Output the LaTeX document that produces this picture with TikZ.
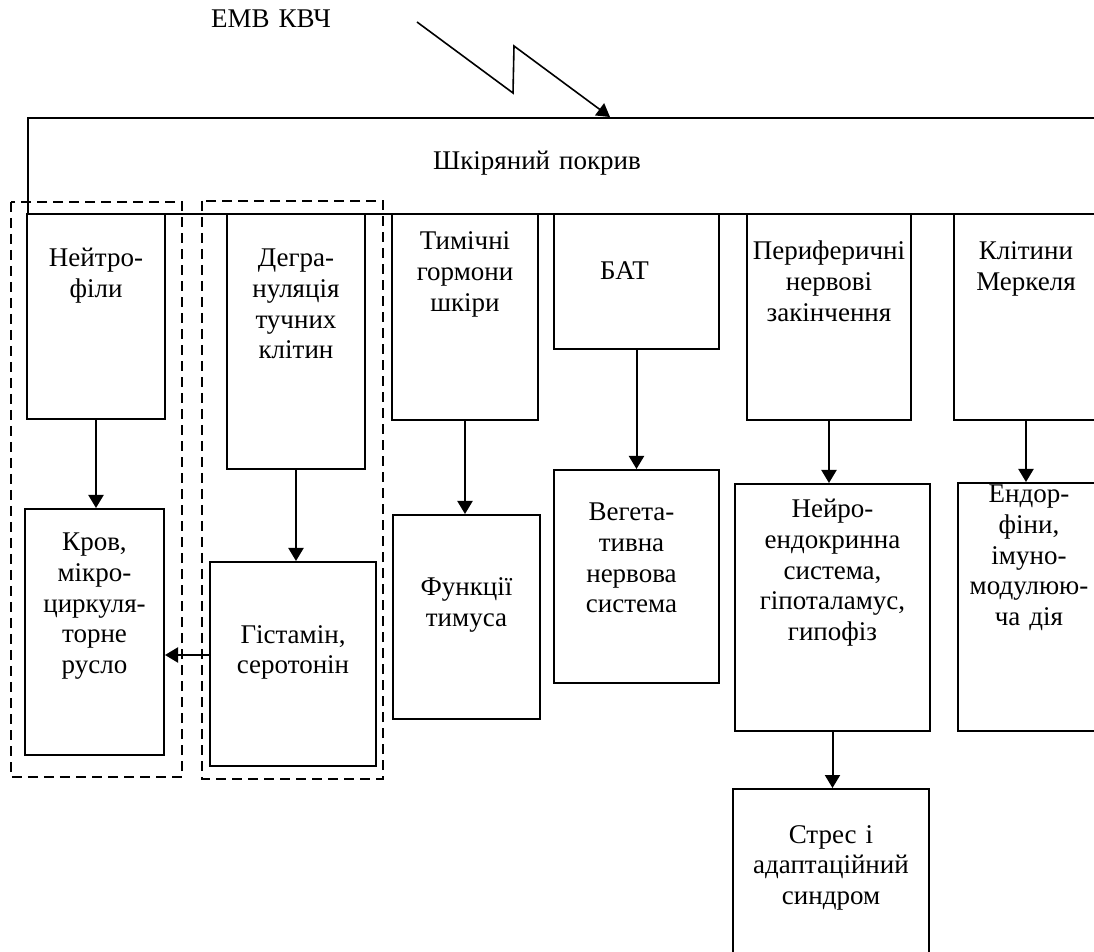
\documentclass[tikz,border=0pt]{standalone}
\usepackage{fontspec}
\setmainfont{Liberation Serif}
\usetikzlibrary{arrows.meta}

\begin{document}
\begin{tikzpicture}[x=0.5pt, y=-0.5pt,
	font=\fontsize{13.5}{15.3}\selectfont,
	box/.style={draw, line width=1pt, anchor=north west, inner sep=0pt},
	txt/.style={anchor=base, align=center, text width=120pt, inner sep=0pt},
	arr/.style={line width=1pt, -{Triangle[length=6.5pt, width=7.5pt]}},
	group/.style={draw, line width=1pt, dash pattern=on 5pt off 3pt}]
	\useasboundingbox (0,0) rectangle (1094,952);
	\clip (0,0) rectangle (1094,952);

	\node[txt] (emv) at (271,28) {ЕМВ КВЧ};
	\node[box, minimum width=545pt, minimum height=48pt] (skin) at (27,117) {};
	\node[txt] (skintxt) at (537,170) {Шкіряний покрив};

	\node[box, minimum width=69pt, minimum height=102.5pt] (neutro) at (26,213) {};
	\node[box, minimum width=69pt, minimum height=127.5pt] (degr) at (226,213) {};
	\node[box, minimum width=73pt, minimum height=103pt] (tym) at (391,213) {};
	\node[box, minimum width=82.5pt, minimum height=67.5pt] (bat) at (553,213) {};
	\node[box, minimum width=82pt, minimum height=103pt] (perif) at (746,213) {};
	\node[box, minimum width=72pt, minimum height=103pt] (merkel) at (953,213) {};

	\node[box, minimum width=69.5pt, minimum height=123pt] (krov) at (24,508) {};
	\node[box, minimum width=83pt, minimum height=102pt] (hist) at (209,561) {};
	\node[box, minimum width=73.5pt, minimum height=102pt] (func) at (392,514) {};
	\node[box, minimum width=82.5pt, minimum height=106.5pt] (veget) at (553,469) {};
	\node[box, minimum width=97.5pt, minimum height=123.5pt] (neuro) at (734,483) {};
	\node[box, minimum width=71pt, minimum height=124pt] (endor) at (957,482) {};
	\node[box, minimum width=98pt, minimum height=100pt] (stress) at (732,788) {};

	\node[txt] (neutrotxt) at ([yshift=-27pt]neutro.north) {Нейтро-\\філи};
	\node[txt] (degrtxt) at ([yshift=-27pt]degr.north) {Дегра-\\нуляція\\тучних\\клітин};
	\node[txt] (tymtxt) at ([yshift=-18.5pt]tym.north) {Тимічні\\гормони\\шкіри};
	\node[txt] (battxt) at ([xshift=-6pt, yshift=-33.5pt]bat.north) {БАТ};
	\node[txt] (periftxt) at ([yshift=-23.5pt]perif.north) {Периферичні\\нервові\\закінчення};
	\node[txt] (merkeltxt) at ([yshift=-23.5pt]merkel.north) {Клітини\\Меркеля};
	\node[txt] (krovtxt) at ([yshift=-21.5pt]krov.north) {Кров,\\мікро-\\циркуля-\\торне\\русло};
	\node[txt] (histtxt) at ([yshift=-41pt]hist.north) {Гістамін,\\серотонін};
	\node[txt] (functxt) at ([yshift=-41pt]func.north) {Функції\\тимуса};
	\node[txt] (vegettxt) at ([xshift=-2.5pt, yshift=-26pt]veget.north) {Вегета-\\тивна\\нервова\\система};
	\node[txt] (neurotxt) at ([yshift=-17.5pt]neuro.north) {Нейро-\\ендокринна\\система,\\гіпоталамус,\\гипофіз};
	\node[txt] (endortxt) at ([yshift=-10.5pt]endor.north) {Ендор-\\фіни,\\імуно-\\модулюю-\\ча дія};
	\node[txt] (stresstxt) at ([yshift=-27.5pt]stress.north) {Стрес і\\адаптаційний\\синдром};

	\draw[group] (11,202) rectangle (182,777);
	\draw[group] (202,201) rectangle (383,779);

	\coordinate (z0) at (417,22);
	\coordinate (z1) at (513,93);
	\coordinate (z2) at (514,46);
	\coordinate (hit) at (610,117);
	\draw[arr, line width=0.8pt] (z0) -- (z1) -- (z2) -- (hit);

	\draw[arr] (neutro.south) -- (neutro.south |- krov.north);
	\draw[arr] (degr.south) -- (degr.south |- hist.north);
	\draw[arr] ([yshift=4.5pt]hist.west) -- ([yshift=4.5pt]hist.west -| krov.east);
	\draw[arr] (tym.south) -- (tym.south |- func.north);
	\draw[arr] (bat.south) -- (bat.south |- veget.north);
	\draw[arr] (perif.south) -- (perif.south |- neuro.north);
	\draw[arr] (merkel.south) -- (merkel.south |- endor.north);
	\draw[arr] (neuro.south) -- (neuro.south |- stress.north);
\end{tikzpicture}
\end{document}
